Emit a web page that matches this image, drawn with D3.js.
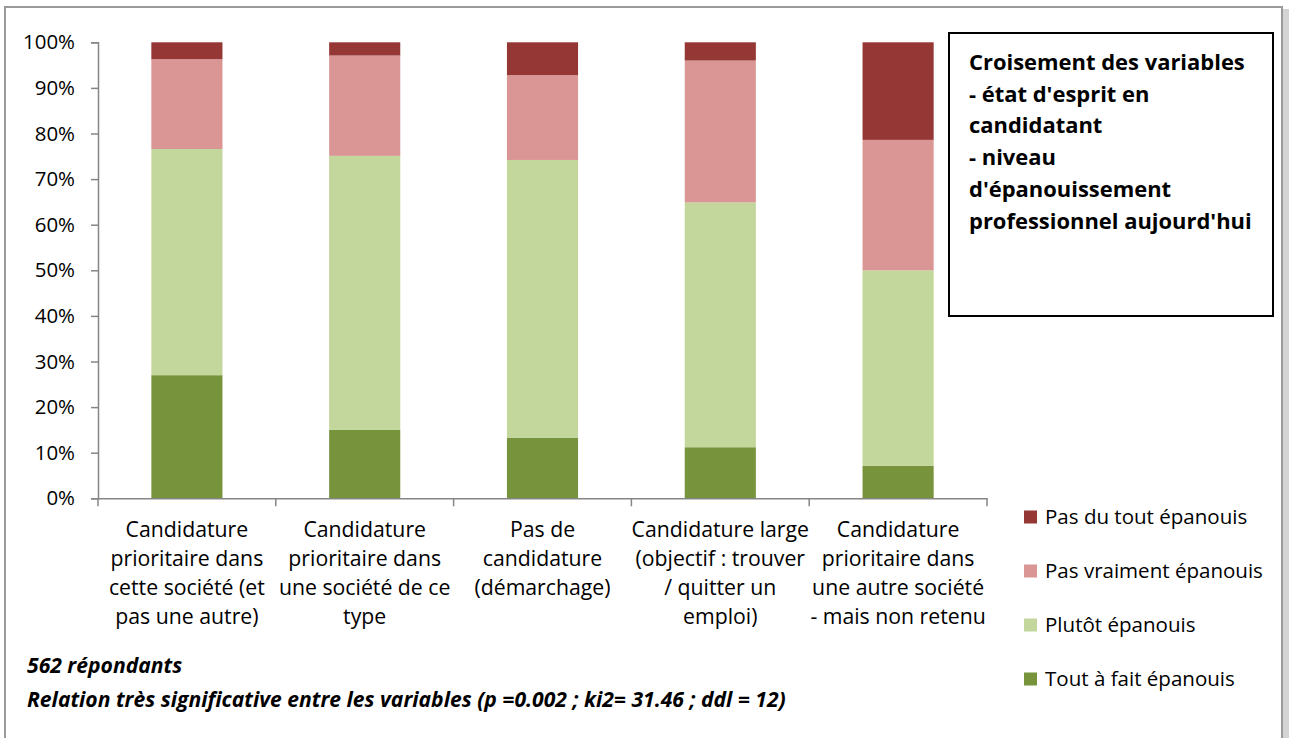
<!DOCTYPE html>
<html><head><meta charset="utf-8">
<script src="https://cdn.jsdelivr.net/npm/d3@7"></script>
<style>body{margin:0;background:#fff}svg{display:block}</style>
</head><body>
<svg id="c" width="1290" height="738"></svg>
<script>
const categories = [
  "Candidature prioritaire dans cette société (et pas une autre)",
  "Candidature prioritaire dans une société de ce type",
  "Pas de candidature (démarchage)",
  "Candidature large (objectif : trouver / quitter un emploi)",
  "Candidature prioritaire dans une autre société - mais non retenu"
];
const categoryLines = [
  ["Candidature", "prioritaire dans", "cette société (et", "pas une autre)"],
  ["Candidature", "prioritaire dans", "une société de ce", "type"],
  ["Pas de", "candidature", "(démarchage)"],
  ["Candidature large", "(objectif : trouver", "/ quitter un", "emploi)"],
  ["Candidature", "prioritaire dans", "une autre société", "- mais non retenu"]
];
const seriesNames = ["Tout à fait épanouis", "Plutôt épanouis", "Pas vraiment épanouis", "Pas du tout épanouis"];
const toutAFait   = [27.0, 15.0, 13.3, 11.2, 7.1];
const plutot      = [49.6, 60.1, 60.9, 53.7, 42.9];
const pasVraiment = [19.7, 22.0, 18.6, 31.1, 28.6];
const pasDuTout   = [3.7, 2.9, 7.2, 4.0, 21.4];
const seriesColors = ["#77933C", "#C3D69B", "#D99694", "#953735"];
const yTicks = [0, 10, 20, 30, 40, 50, 60, 70, 80, 90, 100];
const titleLines = ["Croisement des variables", "- état d'esprit en", "candidatant", "- niveau", "d'épanouissement", "professionnel aujourd'hui"];
const noteLines = ["562 répondants", "Relation très significative entre les variables (p =0.002 ; ki2= 31.46 ; ddl = 12)"];

const FONT = "'Open Sans', 'Noto Sans', sans-serif";
const svg = d3.select("#c");
const axisColor = "#868686";

// font size fitted so that a sample string takes the width it has in the reference
function fitSize(sample, target, weight, style) {
  const t = svg.append("text").attr("font-family", FONT).attr("font-size", 20)
    .attr("font-weight", weight || "normal").attr("font-style", style || "normal").text(sample);
  const w = t.node().getComputedTextLength();
  t.remove();
  return 20 * target / w;
}
const fsY = fitSize("100%", 52);
const fsCat = fitSize("cette société (et", 156);
const fsTitle = fitSize("professionnel aujourd'hui", 283, "bold");
const fsLeg = fitSize("Pas vraiment épanouis", 218);
const fsNote = fitSize(noteLines[1], 759, "bold", "italic");

// outer frame
svg.append("rect").attr("x", 1283).attr("y", 9).attr("width", 6).attr("height", 740).attr("fill", "#d4d4d4");
svg.append("path").attr("d", "M5,745 L5,7 L1282,7 L1282,745").attr("fill", "none").attr("stroke", "#9a9a9a").attr("stroke-width", 2);

const rows = categories.map((c, i) => ({cat: c, s0: toutAFait[i], s1: plutot[i], s2: pasVraiment[i], s3: pasDuTout[i]}));
const keys = ["s0", "s1", "s2", "s3"];
const stacked = d3.stack().keys(keys)(rows);

const x = d3.scaleBand().domain(categories).range([98, 987]).paddingInner(0.6).paddingOuter(0.3);
const y = d3.scaleLinear().domain([0, 100]).range([498.3, 42.3]);

// bars
svg.append("g").selectAll("g").data(stacked).join("g")
  .attr("fill", (d, i) => seriesColors[i])
  .selectAll("rect").data(d => d).join("rect")
  .attr("x", d => x(d.data.cat))
  .attr("width", x.bandwidth())
  .attr("y", d => y(d[1]))
  .attr("height", d => y(d[0]) - y(d[1]));

// y axis
const yAxis = svg.append("g").attr("transform", "translate(98,0)")
  .call(d3.axisLeft(y).tickValues(yTicks).tickFormat(d => d + "%").tickSize(7).tickPadding(16));
yAxis.selectAll("path,line").attr("stroke", axisColor).attr("stroke-width", 1.5);
yAxis.selectAll("text").attr("font-family", FONT).attr("font-size", fsY).attr("fill", "#000");

// x axis
const xAxis = svg.append("g").attr("transform", "translate(0,498.3)")
  .call(d3.axisBottom(x).tickSize(0).tickFormat(""));
xAxis.select("path").attr("stroke", axisColor).attr("stroke-width", 1.5);
const step = (x.range()[1] - x.range()[0]) / categories.length;
xAxis.selectAll("line.b").data(d3.range(categories.length + 1)).join("line").attr("class", "b")
  .attr("x1", i => x.range()[0] + i * step).attr("x2", i => x.range()[0] + i * step)
  .attr("y1", 0).attr("y2", 8).attr("stroke", axisColor).attr("stroke-width", 1.5);

// category labels
categories.forEach((c, i) => {
  const cx = x(c) + x.bandwidth() / 2;
  const t = svg.append("text").attr("font-family", FONT).attr("font-size", fsCat).attr("text-anchor", "middle").attr("fill", "#000");
  categoryLines[i].forEach((ln, j) => {
    t.append("tspan").attr("x", cx).attr("y", 537 + j * 29).text(ln);
  });
});

// title box
svg.append("rect").attr("x", 949).attr("y", 33).attr("width", 324).attr("height", 283)
  .attr("fill", "#fff").attr("stroke", "#000").attr("stroke-width", 2);
const tt = svg.append("text").attr("font-family", FONT).attr("font-size", fsTitle).attr("font-weight", "bold").attr("fill", "#000");
titleLines.forEach((ln, j) => tt.append("tspan").attr("x", 969).attr("y", 70 + j * 31.7).text(ln));

// legend
const legendOrder = [3, 2, 1, 0];
legendOrder.forEach((si, j) => {
  const ly = 517 + j * 54;
  svg.append("rect").attr("x", 1024).attr("y", ly - 6.5).attr("width", 13).attr("height", 13).attr("fill", seriesColors[si]);
  svg.append("text").attr("x", 1045).attr("y", ly + 7).attr("font-family", FONT).attr("font-size", fsLeg).attr("fill", "#000").text(seriesNames[si]);
});

// notes
noteLines.forEach((ln, j) => {
  svg.append("text").attr("x", 27).attr("y", 673 + j * 34).attr("font-family", FONT).attr("font-size", fsNote)
    .attr("font-weight", "bold").attr("font-style", "italic").attr("fill", "#000").text(ln);
});
</script>
</body></html>
